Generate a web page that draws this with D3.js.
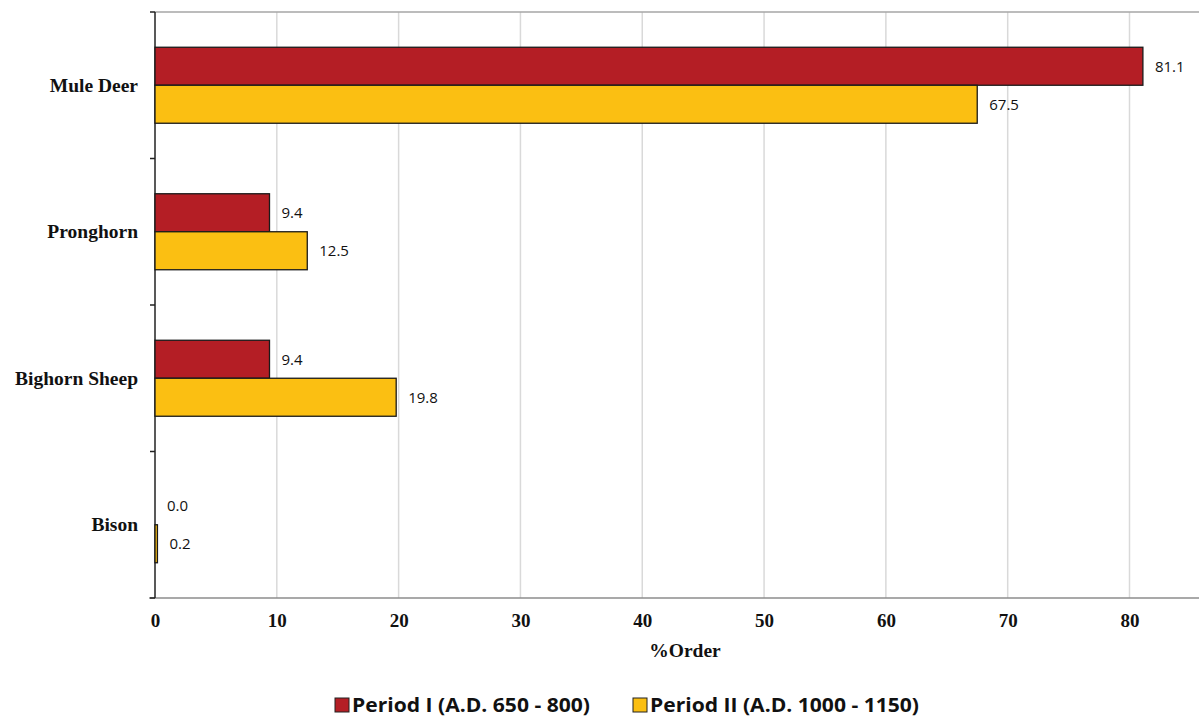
<!DOCTYPE html>
<html>
<head>
<meta charset="utf-8">
<script src="https://cdn.jsdelivr.net/npm/d3@7"></script>
<style>
  body { margin: 0; background: #fff; }
  svg { display: block; }
</style>
</head>
<body>
<div id="chart"></div>
<script>
// chart data
const categories = ['Mule Deer', 'Pronghorn', 'Bighorn Sheep', 'Bison'];
const periodI = [81.1, 9.4, 9.4, 0.0];
const periodII = [67.5, 12.5, 19.8, 0.2];
const seriesNames = ['Period I (A.D. 650 - 800)', 'Period II (A.D. 1000 - 1150)'];
const xTicks = [0, 10, 20, 30, 40, 50, 60, 70, 80];

const colors = ['#B41E25', '#FBBF12'];

const W = 1199, H = 717;
const plot = { left: 155, top: 12, bottom: 598, right: 1199 };

const svg = d3.select('#chart').append('svg')
  .attr('width', W).attr('height', H);

const x = d3.scaleLinear().domain([0, 80]).range([plot.left, 1129.5]);
const y = d3.scaleBand().domain(categories).range([plot.top, plot.bottom]);
const inner = d3.scaleBand().domain([0, 1]).range([0, 76]);

// gridlines
svg.append('g')
  .selectAll('line')
  .data(xTicks.filter(d => d > 0))
  .join('line')
  .attr('x1', d => x(d)).attr('x2', d => x(d))
  .attr('y1', plot.top).attr('y2', plot.bottom)
  .attr('stroke', '#d9d9d9').attr('stroke-width', 1.5);

// top border
svg.append('line')
  .attr('x1', plot.left).attr('x2', plot.right)
  .attr('y1', plot.top).attr('y2', plot.top)
  .attr('stroke', '#a6a6a6').attr('stroke-width', 1.5);

// bottom axis
const xAxis = svg.append('g')
  .attr('transform', `translate(0,${plot.bottom})`)
  .call(d3.axisBottom(x).tickValues(xTicks).tickSize(0).tickPadding(16));
xAxis.select('.domain').remove();
xAxis.append('line')
  .attr('x1', plot.left - 6).attr('x2', plot.right)
  .attr('stroke', '#8c8c8c').attr('stroke-width', 1.5);
xAxis.selectAll('text')
  .attr('fill', '#111')
  .style('font-family', '"Liberation Serif", "Times New Roman", serif')
  .style('font-weight', 'bold')
  .style('font-size', '19px');

// left axis
const yAxis = svg.append('g')
  .attr('transform', `translate(${plot.left},0)`)
  .call(d3.axisLeft(y).tickSize(0).tickPadding(17));
yAxis.select('.domain').remove();
yAxis.append('line')
  .attr('y1', plot.top).attr('y2', plot.bottom)
  .attr('stroke', '#222').attr('stroke-width', 1.5);
yAxis.selectAll('.bandtick')
  .data(d3.range(categories.length + 1))
  .join('line')
  .attr('class', 'bandtick')
  .attr('x1', -5).attr('x2', 0)
  .attr('y1', i => plot.top + i * y.step()).attr('y2', i => plot.top + i * y.step())
  .attr('stroke', '#222').attr('stroke-width', 1.5);
yAxis.selectAll('text')
  .attr('fill', '#111')
  .style('font-family', '"Liberation Serif", "Times New Roman", serif')
  .style('font-weight', 'bold')
  .style('font-size', '19.5px');

// bars
const rows = categories.map((c, i) => ({ cat: c, vals: [periodI[i], periodII[i]] }));
const groups = svg.append('g').selectAll('g')
  .data(rows)
  .join('g')
  .attr('transform', d => `translate(0,${y(d.cat) + (y.bandwidth() - 76) / 2})`);

groups.selectAll('rect')
  .data(d => d.vals.map((v, k) => ({ v, k })))
  .join('rect')
  .attr('x', x(0))
  .attr('y', d => inner(d.k))
  .attr('width', d => x(d.v) - x(0))
  .attr('height', inner.bandwidth())
  .attr('fill', d => colors[d.k])
  .attr('stroke', d => d.v > 0 ? '#1a1a1a' : 'none')
  .attr('stroke-width', 1.3);

groups.selectAll('text')
  .data(d => d.vals.map((v, k) => ({ v, k })))
  .join('text')
  .attr('x', d => x(d.v) + 12)
  .attr('y', d => inner(d.k) + inner.bandwidth() / 2)
  .attr('dy', '0.35em')
  .attr('fill', '#111')
  .style('font-family', '"Open Sans", "Liberation Sans", sans-serif')
  .style('font-size', '15px')
  .text(d => d.v.toFixed(1));

// axis title
svg.append('text')
  .attr('x', 685).attr('y', 657)
  .attr('text-anchor', 'middle')
  .attr('fill', '#111')
  .style('font-family', '"Liberation Serif", "Times New Roman", serif')
  .style('font-weight', 'bold')
  .style('font-size', '19.5px')
  .text('%Order');

// legend
const legendX = [335, 633];
const legend = svg.append('g').selectAll('g')
  .data(seriesNames)
  .join('g')
  .attr('transform', (d, i) => `translate(${legendX[i]},705)`);
legend.append('rect')
  .attr('x', 0).attr('y', -7).attr('width', 14).attr('height', 14)
  .attr('fill', (d, i) => colors[i])
  .attr('stroke', '#222').attr('stroke-width', 1);
legend.append('text')
  .attr('x', 17).attr('dy', '0.35em')
  .attr('fill', '#111')
  .style('font-family', '"Open Sans", "Liberation Sans", sans-serif')
  .style('font-weight', 'bold')
  .style('font-size', '20px')
  .attr('textLength', (d, i) => [238, 269][i])
  .attr('lengthAdjust', 'spacingAndGlyphs')
  .text(d => d);
</script>
</body>
</html>
